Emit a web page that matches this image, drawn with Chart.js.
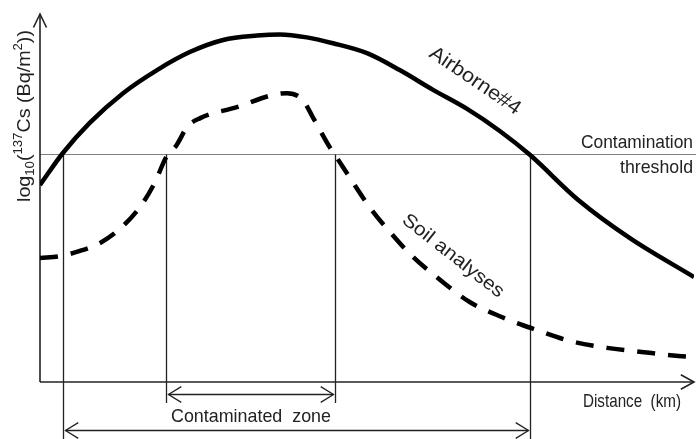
<!DOCTYPE html>
<html><head><meta charset="utf-8">
<script src="https://cdn.jsdelivr.net/npm/chart.js@4.4.0/dist/chart.umd.min.js"></script>
<style>html,body{margin:0;padding:0;background:#fff;overflow:hidden}#wrap{width:696px;height:439px;position:relative}</style>
</head><body><div id="wrap"><canvas id="c" width="696" height="439"></canvas></div>
<script>
// Schematic values (arbitrary units: distance 0-100, log10 activity 0-100)
const airborneX = [0, 3.5, 7.6, 12.7, 17.9, 22.9, 28.0, 33.2, 36.7, 40.8, 44.8, 50.0, 55.0, 60.1, 65.3, 70.3, 74.9, 82.3, 90.2, 100];
const airborneY = [53.7, 62.4, 70.6, 78.7, 85.0, 89.9, 93.2, 94.4, 94.7, 93.9, 92.3, 89.6, 85.0, 79.6, 74.4, 68.4, 61.9, 49.6, 39.2, 28.6];
const soilX = [0, 3.1, 6.1, 9.2, 12.2, 15.3, 17.6, 19.3, 20.9, 22.5, 24.5, 30.1, 35.6, 37.8, 40.2, 41.7, 44.3, 45.1, 47.4, 50.5, 53.5, 56.9, 61.2, 65.7, 70.6, 75.9, 81.0, 86.7, 92.0, 97.6, 100];
const soilY = [33.8, 34.3, 35.7, 37.9, 41.7, 47.7, 54.5, 61.3, 64.6, 69.5, 71.9, 74.9, 78.2, 78.7, 76.8, 72.2, 64.0, 61.9, 55.6, 47.4, 40.9, 34.3, 27.8, 21.8, 17.7, 14.2, 11.2, 9.3, 8.2, 7.1, 6.8];
const threshold = 62.1;
const airborneCross = [3.5, 74.9];
const soilCross = [19.3, 45.1];
const labels = {
  yAxis: ["log", "10", "(", "137", "Cs (Bq/m", "2", "))"],
  xAxis: "Distance  (km)",
  threshold1: "Contamination",
  threshold2: "threshold",
  zone: "Contaminated  zone",
  airborne: "Airborne#4",
  soil: "Soil analyses"
};

const FONT = "'Liberation Sans', Arial, sans-serif";
const INK = '#222';

function fitText(ctx, text, x, y, width, size, align) {
  ctx.save();
  ctx.font = size + 'px ' + FONT;
  const w = ctx.measureText(text).width;
  const s = width / w;
  let x0 = x;
  if (align === 'center') x0 = x - width / 2;
  else if (align === 'right') x0 = x - width;
  ctx.translate(x0, y);
  ctx.scale(s, 1);
  ctx.textAlign = 'left';
  ctx.textBaseline = 'alphabetic';
  ctx.fillStyle = INK;
  ctx.fillText(text, 0, 0);
  ctx.restore();
}

function rotText(ctx, text, cx, cy, angleDeg, width, size) {
  ctx.save();
  ctx.translate(cx, cy);
  ctx.rotate(angleDeg * Math.PI / 180);
  ctx.font = size + 'px ' + FONT;
  const w = ctx.measureText(text).width;
  ctx.scale(width / w, 1);
  ctx.textAlign = 'center';
  ctx.textBaseline = 'middle';
  ctx.fillStyle = INK;
  ctx.fillText(text, 0, 0);
  ctx.restore();
}

function chevron(ctx, x, y, dir, len, spread) {
  ctx.beginPath();
  const a1 = dir + Math.PI - spread, a2 = dir + Math.PI + spread;
  ctx.moveTo(x + len * Math.cos(a1), y + len * Math.sin(a1));
  ctx.lineTo(x, y);
  ctx.lineTo(x + len * Math.cos(a2), y + len * Math.sin(a2));
  ctx.stroke();
}

function line(ctx, x1, y1, x2, y2) {
  ctx.beginPath(); ctx.moveTo(x1, y1); ctx.lineTo(x2, y2); ctx.stroke();
}

const decor = {
  id: 'decor',
  beforeDatasetsDraw(chart) {
    const ctx = chart.ctx, xs = chart.scales.x, ys = chart.scales.y;
    const a = chart.chartArea;
    const ty = Math.round(ys.getPixelForValue(threshold)) + 0.5;
    ctx.save();
    ctx.lineCap = 'butt';
    ctx.strokeStyle = '#808080'; ctx.lineWidth = 1.2;
    line(ctx, a.left, ty, chart.width, ty);
    ctx.strokeStyle = INK; ctx.lineWidth = 1.6;
    line(ctx, a.left, a.bottom, a.left, a.top - 1);
    line(ctx, a.left, a.bottom, a.right, a.bottom);
    chevron(ctx, a.left, a.top - 1, -Math.PI / 2, 15, 0.45);
    chevron(ctx, a.right, a.bottom, 0, 15, 0.5);
    ctx.lineWidth = 1.3;
    const ax = airborneCross.map(v => Math.round(xs.getPixelForValue(v)) + 0.5);
    const sx = soilCross.map(v => Math.round(xs.getPixelForValue(v)) + 0.5);
    ax.forEach(x => line(ctx, x, ty, x, chart.height));
    sx.forEach(x => line(ctx, x, ty, x, 403));
    const y1 = 394.5, y2 = 430.5;
    line(ctx, sx[0] + 2, y1, sx[1] - 2, y1);
    chevron(ctx, sx[0] + 2, y1, Math.PI, 15, 0.55);
    chevron(ctx, sx[1] - 2, y1, 0, 15, 0.55);
    line(ctx, ax[0] + 2, y2, ax[1] - 2, y2);
    chevron(ctx, ax[0] + 2, y2, Math.PI, 15, 0.55);
    chevron(ctx, ax[1] - 2, y2, 0, 15, 0.55);
    ctx.restore();
  },
  afterDatasetsDraw(chart) {
    const ctx = chart.ctx;
    fitText(ctx, labels.zone, 251, 422, 160, 19, 'center');
    fitText(ctx, labels.xAxis, 632, 407, 98, 19, 'center');
    fitText(ctx, labels.threshold1, 693, 148, 112, 19, 'right');
    fitText(ctx, labels.threshold2, 693, 173, 73, 19, 'right');
    rotText(ctx, labels.airborne, 475, 81, 34, 106, 20);
    rotText(ctx, labels.soil, 453, 256, 38, 124, 19);
    ctx.save();
    ctx.translate(30, 202);
    ctx.rotate(-Math.PI / 2);
    const parts = labels.yAxis;
    const big = 18, small = 12;
    const specs = parts.map((t, i) => ({ t, sz: (i === 1 || i === 3 || i === 5) ? small : big, dy: i === 1 ? 4 : (i === 3 || i === 5) ? -8 : 0 }));
    let tot = 0;
    specs.forEach(s => { ctx.font = s.sz + 'px ' + FONT; s.w = ctx.measureText(s.t).width; tot += s.w; });
    const sc = 172 / tot;
    ctx.scale(sc, 1);
    ctx.fillStyle = INK; ctx.textBaseline = 'alphabetic'; ctx.textAlign = 'left';
    let x = 0;
    specs.forEach(s => { ctx.font = s.sz + 'px ' + FONT; ctx.fillText(s.t, x, s.dy); x += s.w; });
    ctx.restore();
  }
};

new Chart(document.getElementById('c'), {
  type: 'line',
  data: {
    datasets: [
      { label: 'Airborne#4', data: airborneX.map((x, i) => ({ x, y: airborneY[i] })), borderColor: '#000', borderWidth: 4.5, pointRadius: 0, cubicInterpolationMode: 'monotone', fill: false },
      { label: 'Soil analyses', data: soilX.map((x, i) => ({ x, y: soilY[i] })), borderColor: '#000', borderWidth: 4.5, borderDash: [18, 13], pointRadius: 0, cubicInterpolationMode: 'monotone', fill: false }
    ]
  },
  options: {
    responsive: false, animation: false, devicePixelRatio: 1,
    layout: { padding: { left: 40, right: 2, top: 15, bottom: 57 } },
    scales: {
      x: { type: 'linear', min: 0, max: 100, display: false },
      y: { min: 0, max: 100, display: false }
    },
    plugins: { legend: { display: false }, tooltip: { enabled: false } }
  },
  plugins: [decor]
});
</script></body></html>
